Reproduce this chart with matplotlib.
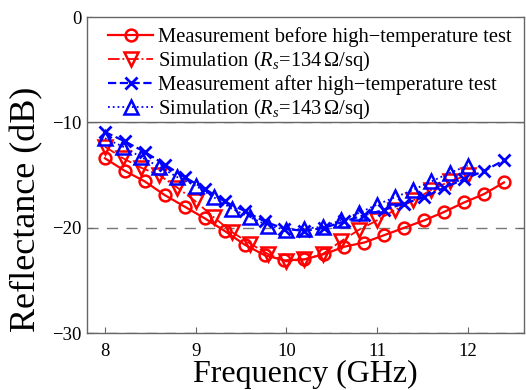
import matplotlib
matplotlib.use('Agg')
import matplotlib.pyplot as plt
from matplotlib.patches import Rectangle

# measured curves (marker every 0.22 GHz), simulated curves (every 0.2 GHz)
freq_meas = [8.00, 8.22, 8.44, 8.66, 8.88, 9.10, 9.32, 9.54, 9.76, 9.98, 10.20,
             10.42, 10.64, 10.86, 11.08, 11.30, 11.52, 11.74, 11.96, 12.18, 12.40]
freq_sim = [8.0, 8.2, 8.4, 8.6, 8.8, 9.0, 9.2, 9.4, 9.6, 9.8, 10.0,
            10.2, 10.4, 10.6, 10.8, 11.0, 11.2, 11.4, 11.6, 11.8, 12.0]

meas_before = [-13.4, -14.6, -15.6, -16.9, -18.0, -19.1, -20.3, -21.6, -22.6, -23.1, -23.0,
               -22.5, -21.8, -21.4, -20.7, -20.0, -19.3, -18.5, -17.6, -16.8, -15.7]
sim_134 = [-12.3, -13.4, -14.3, -15.0, -16.2, -17.5, -19.0, -20.4, -21.5, -22.5, -23.2,
           -23.0, -22.5, -21.3, -20.2, -19.3, -18.3, -17.4, -16.4, -15.6, -15.0]
meas_after = [-10.9, -11.8, -12.8, -14.0, -15.2, -16.3, -17.5, -18.4, -19.4, -20.1, -20.3,
              -20.0, -19.4, -18.8, -18.3, -17.7, -17.1, -16.2, -15.4, -14.6, -13.6]
sim_143 = [-11.5, -12.3, -13.3, -14.2, -15.2, -16.0, -17.1, -18.2, -19.0, -19.8, -20.2,
           -20.1, -19.9, -19.3, -18.6, -17.8, -17.1, -16.4, -15.6, -14.8, -14.1]

labels = ['Measurement before high\u2212temperature test',
          r'Simulation ($R_s$=134$\,\Omega$/sq)',
          'Measurement after high\u2212temperature test',
          r'Simulation ($R_s$=143$\,\Omega$/sq)']

plt.rcParams['font.family'] = ['Liberation Serif', 'DejaVu Serif']
plt.rcParams['mathtext.fontset'] = 'custom'
plt.rcParams['mathtext.rm'] = 'Liberation Serif'
plt.rcParams['mathtext.it'] = 'Liberation Serif:italic'
plt.rcParams['axes.unicode_minus'] = True

fig = plt.figure(figsize=(5.26, 3.9), dpi=100)
ax = fig.add_axes([0.165, 0.146, 0.831, 0.81])

ax.plot(freq_meas, meas_before, '-', color='#ff0000', lw=1.6, marker='o', ms=8.5,
        mfc='none', mew=1.8, label=labels[0])
ax.plot(freq_sim, sim_134, '-.', color='#ff0000', lw=1.3, marker='v', ms=10,
        mfc='none', mew=1.8, label=labels[1])
ax.plot(freq_meas, meas_after, '--', color='#0000ff', lw=1.6, marker='x', ms=8,
        mew=2.0, label=labels[2])
ax.plot(freq_sim, sim_143, ':', color='#0000ff', lw=1.3, marker='^', ms=10,
        mfc='none', mew=1.8, label=labels[3])

ax.set_xlim(7.8, 12.62)
ax.set_ylim(-30, 0)
ax.set_xticks([8, 9, 10, 11, 12])
ax.set_yticks([-30, -20, -10, 0])
ax.yaxis.grid(True, linestyle=(0, (8, 6)), color='#777777', lw=1.0)
ax.set_axisbelow(True)
ax.tick_params(direction='in', length=4, top=True, right=True, labelsize=13.5,
               color='#666666', width=0.8)
ax.tick_params(axis='x', pad=7)
for s in ax.spines.values():
    s.set_color('#666666')
    s.set_linewidth(1.0)

ax.set_xlabel('Frequency (GHz)', fontsize=23)
ax.xaxis.set_label_coords(0.5, -0.085)
ax.set_ylabel('Reflectance (dB)', fontsize=26)
ax.yaxis.set_label_coords(-0.10, 0.393)

# legend box spans the whole width, down to the -10 dB line
ax.add_patch(Rectangle((0, 2 / 3), 1, 1 / 3, transform=ax.transAxes, facecolor='white',
                       edgecolor='#666666', lw=1.0, zorder=4))
leg = ax.legend(loc='upper left', bbox_to_anchor=(0.037, 0.984), borderaxespad=0,
                fontsize=14.75, handlelength=2.2, handletextpad=0.25, labelspacing=0.1,
                borderpad=0.25, frameon=False)
leg.set_zorder(5)

fig.savefig('out.png', dpi=100)
